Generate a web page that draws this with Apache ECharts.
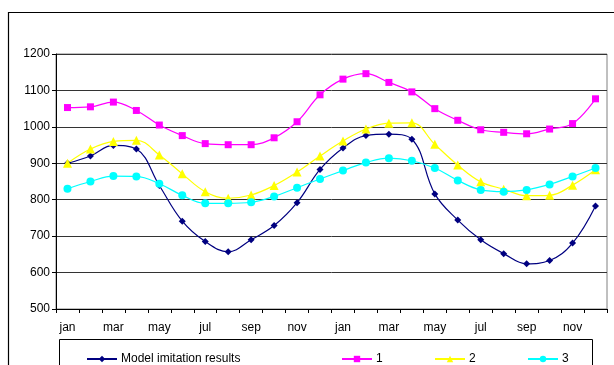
<!DOCTYPE html>
<html><head><meta charset="utf-8">
<script src="https://cdn.jsdelivr.net/npm/echarts@6/dist/echarts.min.js"></script>
<style>html,body{margin:0;padding:0;background:#fff}#c{width:614px;height:365px}</style>
</head><body><div id="c"></div>
<script>
const categories = ['jan','feb','mar','apr','may','jun','jul','aug','sep','oct','nov','dec',
                    'jan','feb','mar','apr','may','jun','jul','aug','sep','oct','nov','dec'];
const seriesNames = ['Model imitation results','1','2','3'];
const modelValues = [900,920,949,939,839,741,685,657,690,729,792,883,942,976,980,966,816,744,690,652,624,633,681,783];
const s1Values = [1053,1055,1068,1045,1005,976,954,951,951,970,1014,1088,1131,1146,1122,1096,1050,1018,992,985,981,994,1009,1077];
const s2Values = [900,939,960,963,923,871,822,804,813,839,876,920,961,994,1010,1011,952,895,849,829,811,812,840,882];
const s3Values = [830,850,865,864,844,812,790,790,793,809,833,857,880,902,914,907,887,853,827,822,827,842,864,887];
const yTicks = {min:500, max:1200, step:100};

const font = 'Liberation Sans, Arial, sans-serif';
const colors = ['#000080','#FF00FF','#FFFF00','#00FFFF'];
const symbols = ['diamond','rect','triangle','circle'];
const sizes = [7,7,9,8];
const data = [modelValues, s1Values, s2Values, s3Values];
const legendLefts = [86, 341, 434, 527];

const chart = echarts.init(document.getElementById('c'), null, {renderer:'canvas'});
chart.setOption({
  animation:false,
  backgroundColor:'#fff',
  textStyle:{fontFamily:font},
  grid:{left:56, right:7, top:54, bottom:56, show:true, borderColor:'#808080', borderWidth:1, backgroundColor:'transparent'},
  xAxis:{type:'category', data:categories, boundaryGap:true,
    axisLine:{lineStyle:{color:'#000', width:1}},
    axisTick:{show:true, interval:0, length:4, lineStyle:{color:'#000'}},
    axisLabel:{interval:1, color:'#000', fontSize:12, fontFamily:font, margin:13},
    splitLine:{show:false}},
  yAxis:{type:'value', min:yTicks.min, max:yTicks.max, interval:yTicks.step,
    axisLine:{show:true, lineStyle:{color:'#000', width:1}},
    axisTick:{show:true, length:4, lineStyle:{color:'#000'}},
    axisLabel:{color:'#000', fontSize:12, fontFamily:font, margin:6, formatter:v=>String(v)},
    splitLine:{show:true, lineStyle:{color:'#333', width:1}}},
  legend: seriesNames.map((n,i)=>({
    data:[n], left:legendLefts[i], top:353, itemWidth:30, itemHeight:8, itemGap:4,
    textStyle:{color:'#000', fontSize:12, fontFamily:font, padding:[0,0,0,-1]},
    padding:0
  })),
  graphic:[
    {type:'rect', shape:{x:8.5, y:12.5, width:700, height:500}, style:{fill:'none', stroke:'#000', lineWidth:1.2}, silent:true, z:-1},
    {type:'rect', shape:{x:59.5, y:339.5, width:533, height:100}, style:{fill:'none', stroke:'#000', lineWidth:1}, silent:true}
  ],
  series: seriesNames.map((n,i)=>({
    name:n, type:'line', data:data[i], smooth:0.4,
    symbol:symbols[i], symbolSize:sizes[i], showSymbol:true,
    itemStyle:{color:colors[i]}, lineStyle:{color:colors[i], width:1.2}
  }))
});
</script></body></html>
